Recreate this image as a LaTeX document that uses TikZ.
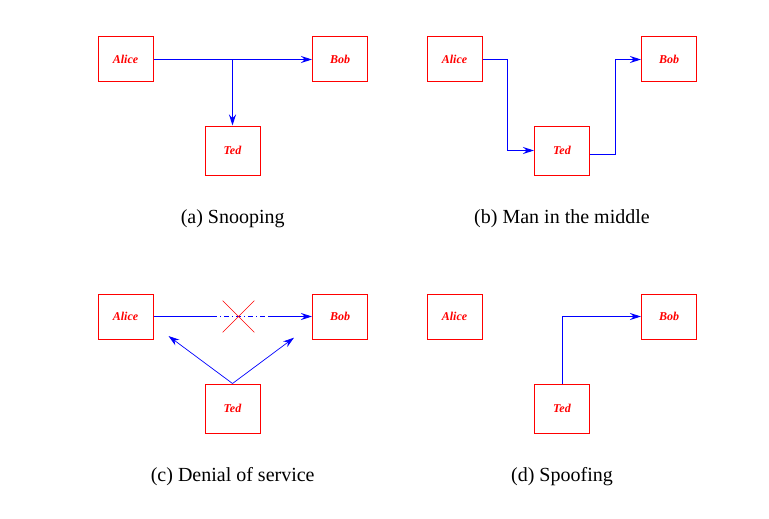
\documentclass[tikz,border=0pt]{standalone}
\usepackage{fontspec}
\setmainfont{Liberation Serif}
\usetikzlibrary{arrows.meta,positioning,shapes.misc}

\begin{document}
\begin{tikzpicture}[x=1pt,y=-1pt,>={Stealth[length=11pt,width=7pt]}]
       \tikzstyle{party}=[draw=red,line width=1pt,inner sep=0pt,minimum width=55pt,minimum height=45pt,text=red,font=\fontsize{12}{14}\selectfont\bfseries\itshape]
       \tikzstyle{attacker}=[party,minimum height=49pt]
       \tikzstyle{msg}=[blue,line width=1pt]
       \tikzstyle{caption}=[anchor=base,font=\fontsize{20}{24}\selectfont]

       \useasboundingbox (0,0) rectangle (769,519);

       % (a) snooping
       \node[party] (alice_a) at (125.5,59.5) {Alice};
       \node[party] (bob_a) at (340,59.5) {Bob};
       \node[attacker] (ted_a) at (232.5,150.5) {Ted};
       \draw[msg,->] (alice_a) -- (bob_a);
       \draw[msg,->] (alice_a -| ted_a) -- (ted_a);
       \node[caption] (cap_a) at (232.7,223.5) {(a) Snooping};

       % (b) man in the middle
       \node[party] (alice_b) at (454.5,59.5) {Alice};
       \node[party] (bob_b) at (669,59.5) {Bob};
       \node[attacker] (ted_b) at (562,150.5) {Ted};
       \draw[msg,->] (alice_b.east) -- ++(25,0) |- (ted_b.west);
       \draw[msg,->] (ted_b.-8) -- ++(25,0) |- (bob_b.west);
       \node[caption] (cap_b) at (562,223.5) {(b) Man in the middle};

       % (c) denial of service
       \node[party] (alice_c) at (125.5,316.5) {Alice};
       \node[party] (bob_c) at (340,316.5) {Bob};
       \node[attacker] (ted_c) at (232.5,408.5) {Ted};
       \coordinate (cut_l) at (212,316.5);
       \coordinate (cut_r) at (269,316.5);
       \coordinate (hit_l) at (168.5,336);
       \coordinate (hit_r) at (294,337.7);
       \draw[msg] (alice_c) -- (cut_l);
       \draw[msg,dash pattern=on 5pt off 3pt on 1pt off 3pt] (cut_l) -- (cut_r);
       \draw[msg,->] (cut_r) -- (bob_c);
       \node[cross out,draw=red,line width=0.7pt,inner sep=0pt,minimum size=31pt] (block) at (238.5,316.5) {};
       \draw[msg,line width=0.7pt,->] (ted_c.north) -- (hit_l);
       \draw[msg,line width=0.7pt,->] (ted_c.north) -- (hit_r);
       \node[caption] (cap_c) at (232.7,481.5) {(c) Denial of service};

       % (d) spoofing
       \node[party] (alice_d) at (454.5,316.5) {Alice};
       \node[party] (bob_d) at (669,316.5) {Bob};
       \node[attacker] (ted_d) at (562,408.5) {Ted};
       \draw[msg,->] (ted_d.north) |- (bob_d.west);
       \node[caption] (cap_d) at (562,481.5) {(d) Spoofing};
     \end{tikzpicture}
\end{document}
